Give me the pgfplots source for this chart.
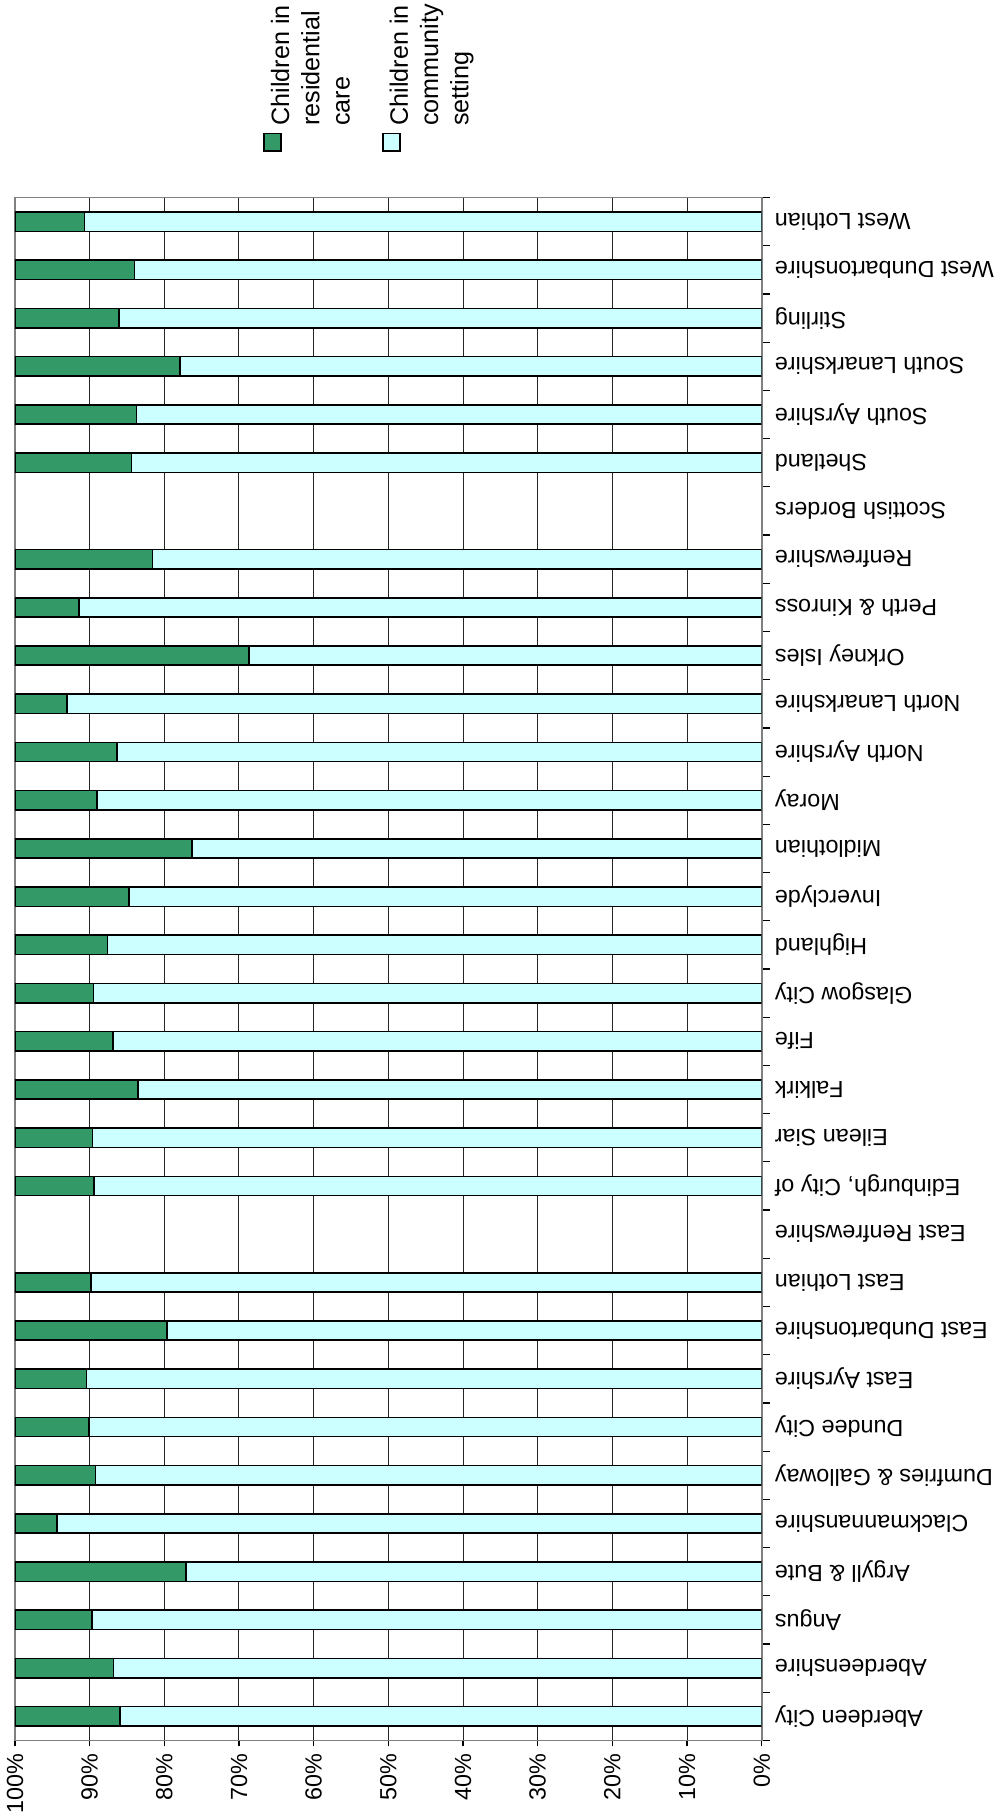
\documentclass[border=0pt]{standalone}
\usepackage{fontspec}
\setmainfont{Liberation Sans}
\usepackage{graphicx}
\usepackage{pgfplots}
\usepackage{pgfplotstable}
\pgfplotsset{compat=1.18}

\definecolor{resgreen}{HTML}{339966}
\definecolor{commcyan}{HTML}{CCFFFF}

% idx 0 = Aberdeen City ... 31 = West Lothian; values in percent
\pgfplotstableread{
idx comm res
0  85.9 14.1
1  86.8 13.2
2  89.7 10.3
3  77.1 22.9
4  94.4 5.6
5  89.2 10.8
6  90.1 9.9
7  90.4 9.6
8  79.6 20.4
9  89.8 10.2
10 0    0
11 89.4 10.6
12 89.6 10.4
13 83.5 16.5
14 86.9 13.1
15 89.5 10.5
16 87.6 12.4
17 84.7 15.3
18 76.3 23.7
19 89.0 11.0
20 86.3 13.7
21 93.0 7.0
22 68.7 31.3
23 91.4 8.6
24 81.6 18.4
25 0    0
26 84.4 15.6
27 83.7 16.3
28 77.9 22.1
29 86.1 13.9
30 84.0 16.0
31 90.7 9.3
}\careData

% legend text turned a quarter turn, as in the source page
\newcommand{\legtext}[1]{\rotatebox{90}{\begin{tabular}{@{}l@{}}#1\end{tabular}}}

\begin{document}
\begin{tikzpicture}
\begin{axis}[
    scale only axis,
    width=371pt,
    height=766.5pt,
    xbar stacked,
    bar width=0.4,
    x dir=reverse,
    xmin=0, xmax=100,
    ymin=-0.5, ymax=31.5,
    xtick={0,10,...,100},
    xticklabels={0\%,10\%,20\%,30\%,40\%,50\%,60\%,70\%,80\%,90\%,100\%},
    xtick pos=bottom,
    xticklabel style={rotate=90, anchor=east},
    ytick={0,...,31},
    yticklabels={Aberdeen City, Aberdeenshire, Angus, Argyll \& Bute,
        Clackmannanshire, Dumfries \& Galloway, Dundee City, East Ayrshire,
        East Dunbartonshire, East Lothian, East Renfrewshire,
        {Edinburgh, City of}, Eilean Siar, Falkirk, Fife, Glasgow City,
        Highland, {Inverclyde\ }, Midlothian, Moray, North Ayrshire,
        North Lanarkshire, Orkney Isles, Perth \& Kinross, Renfrewshire,
        Scottish Borders, Shetland, South Ayrshire, {South Lanarkshire\ },
        Stirling, West Dunbartonshire, West Lothian},
    ytick pos=right,
    yticklabel pos=right,
    yticklabel style={rotate=180, anchor=east},
    ytick style={draw=none},
    minor ytick={-0.5,0.5,...,31.5},
    minor y tick style={draw=black, line width=0.6pt},
    minor tick length=4pt,
    major tick length=3pt,
    tick align=outside,
    xtick style={draw=black, line width=0.6pt},
    tick label style={font=\fontsize{11.6}{13.9}\selectfont},
    xmajorgrids,
    major x grid style={black!85, line width=0.5pt},
    axis line style={gray, line width=0.8pt},
    legend columns=2,
    legend style={
        at={(axis description cs:0.333,1.0418)},
        anchor=south west,
        draw=none,
        fill=none,
        inner sep=0pt,
        font=\fontsize{12.5}{15}\selectfont,
        cells={anchor=base west, inner sep=0pt},
        /tikz/every even column/.append style={column sep=10pt},
    },
    legend image code/.code={
        \draw[#1, overlay] (0pt,-4pt) rectangle (8.5pt,-12.5pt);
    },
    reverse legend,
]
\addplot[fill=commcyan, draw=black, line width=0.8pt]
    table[x=comm, y=idx] {\careData};
\addplot[fill=resgreen, draw=black, line width=0.8pt]
    table[x=res, y=idx] {\careData};
\legend{{\legtext{Children in\\community\\setting}},
        {\legtext{Children in\\residential\\care}}}
\end{axis}
\end{tikzpicture}
\end{document}
